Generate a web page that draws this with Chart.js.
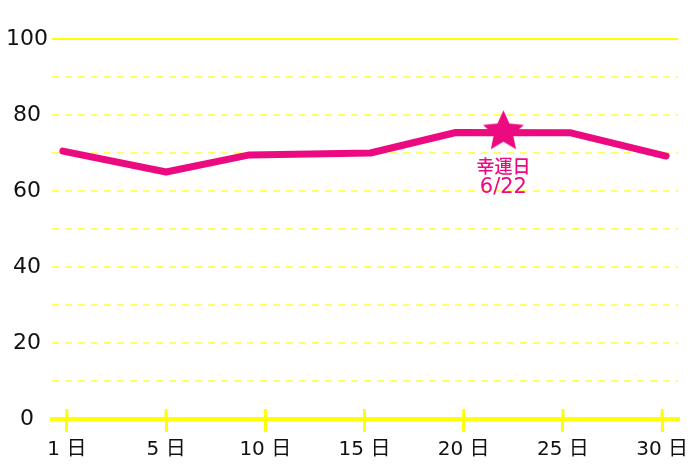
<!DOCTYPE html>
<html>
<head>
<meta charset="utf-8">
<script src="https://cdn.jsdelivr.net/npm/chart.js@4.4.1/dist/chart.umd.min.js"></script>
<style>
    body { margin: 0; background: #fff; }
    #wrap { width: 700px; height: 467px; }
</style>
</head>
<body>
<div id="wrap"><canvas id="fortune-chart"></canvas></div>
<script>
// x axis: days (tick "1日" sits at 0)
const xTicks = [0, 5, 10, 15, 20, 25, 30];
const xTickLabels = ["1 日", "5 日", "10 日", "15 日", "20 日", "25 日", "30 日"];

// fortune line
const lineDays = [-0.2, 5, 9.2, 15.3, 19.6, 25.4, 30.2];
const lineValues = [70.5, 65, 69.5, 70, 75.4, 75.3, 69.2];

// lucky day marker
const luckyDay = [22];
const luckyValue = [75.6];
const luckyText = ["幸運日", "6/22"];

const PINK = "#ec0a80";
const YELLOW = "#ffff00";
const FONT = '"DejaVu Sans", "Noto Sans CJK JP"';

// filled five-point star for the marker
function makeStar(r) {
    const c = document.createElement("canvas");
    c.width = c.height = Math.ceil(r * 2 + 4);
    const ctx = c.getContext("2d");
    const cx = c.width / 2, cy = c.height / 2;
    ctx.beginPath();
    for (let i = 0; i < 10; i++) {
        const rad = i % 2 === 0 ? r : r * 0.47;
        const a = -Math.PI / 2 + (i * Math.PI) / 5;
        ctx.lineTo(cx + rad * Math.cos(a), cy + rad * Math.sin(a));
    }
    ctx.closePath();
    ctx.fillStyle = PINK;
    ctx.fill();
    return c;
}

const extras = {
    id: "extras",
    beforeDatasetsDraw(chart) {
        const { ctx, chartArea, scales } = chart;
        ctx.save();
        // solid top line at 100
        const yTop = scales.y.getPixelForValue(100);
        ctx.strokeStyle = YELLOW;
        ctx.lineWidth = 2;
        ctx.beginPath();
        ctx.moveTo(chartArea.left, yTop);
        ctx.lineTo(chartArea.right, yTop);
        ctx.stroke();
        // upper half of the x tick marks
        ctx.lineWidth = 3;
        xTicks.forEach((d) => {
            const x = scales.x.getPixelForValue(d);
            ctx.beginPath();
            ctx.moveTo(x, chartArea.bottom - 10);
            ctx.lineTo(x, chartArea.bottom + 2);
            ctx.stroke();
        });
        ctx.restore();
    },
    afterDatasetsDraw(chart) {
        const { ctx } = chart;
        const pt = chart.getDatasetMeta(0).data[0];
        ctx.save();
        ctx.fillStyle = PINK;
        ctx.textAlign = "center";
        ctx.textBaseline = "middle";
        ctx.font = '500 18px "Noto Sans CJK JP"';
        ctx.fillText(luckyText[0], pt.x, pt.y + 34);
        ctx.font = "21px " + FONT;
        ctx.fillText(luckyText[1], pt.x, pt.y + 56);
        ctx.restore();
    },
};

new Chart(document.getElementById("fortune-chart"), {
    type: "line",
    data: {
        datasets: [
            {
                label: "lucky",
                data: luckyDay.map((d, i) => ({ x: d, y: luckyValue[i] })),
                showLine: false,
                pointStyle: makeStar(21.5),
                pointRadius: 21,
                order: 0,
            },
            {
                label: "fortune",
                data: lineDays.map((d, i) => ({ x: d, y: lineValues[i] })),
                borderColor: PINK,
                borderWidth: 7,
                borderCapStyle: "round",
                borderJoinStyle: "round",
                tension: 0,
                pointRadius: 0,
                clip: false,
                order: 1,
            },
        ],
    },
    options: {
        responsive: true,
        maintainAspectRatio: false,
        animation: false,
        layout: { padding: { top: 39, right: 20 } },
        plugins: {
            legend: { display: false },
            tooltip: { enabled: false },
        },
        scales: {
            x: {
                type: "linear",
                min: -0.75,
                max: 30.8,
                afterBuildTicks: (scale) => {
                    scale.ticks = xTicks.map((v) => ({ value: v }));
                },
                afterFit: (scale) => {
                    scale.height = 48;
                },
                ticks: {
                    autoSkip: false,
                    maxRotation: 0,
                    padding: 6,
                    color: "#111",
                    font: { family: FONT, size: 20 },
                    callback: (v) => xTickLabels[xTicks.indexOf(v)],
                },
                grid: {
                    drawOnChartArea: false,
                    drawTicks: true,
                    tickLength: 13,
                    color: YELLOW,
                    lineWidth: 3,
                },
                border: { display: true, color: YELLOW, width: 4 },
            },
            y: {
                min: 0,
                max: 100,
                afterFit: (scale) => {
                    scale.width = 52;
                },
                ticks: {
                    stepSize: 10,
                    padding: 4,
                    crossAlign: "center",
                    color: "#111",
                    font: { family: FONT, size: 22 },
                    callback: (v) => (v % 20 === 0 ? v : ""),
                },
                grid: {
                    color: "rgba(255,255,0,0.6)",
                    lineWidth: 2,
                    drawTicks: false,
                },
                border: { display: false, dash: [7, 6] },
            },
        },
    },
    plugins: [extras],
});
</script>
</body>
</html>
